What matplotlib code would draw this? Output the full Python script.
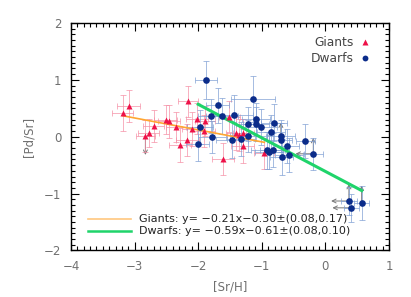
import numpy as np
import matplotlib
matplotlib.use("Agg")
import matplotlib.pyplot as plt
from matplotlib.ticker import MultipleLocator

# giants (red triangles)
giants_x = [-3.19, -3.09, -2.83, -2.78, -2.70, -2.51, -2.46, -2.35, -2.29, -2.16,
            -2.17, -2.09, -2.02, -1.91, -1.89, -1.51, -1.41, -1.36, -1.29, -1.30,
            -1.61, -0.97]
giants_y = [0.42, 0.54, 0.02, 0.07, 0.19, 0.30, 0.27, 0.17, -0.14, 0.62,
            -0.06, 0.13, 0.32, 0.10, 0.28, 0.35, 0.06, 0.03, 0.06, -0.17,
            -0.39, -0.29]
giants_xerr = [0.16, 0.18, 0.15, 0.16, 0.17, 0.18, 0.17, 0.16, 0.17, 0.16,
               0.18, 0.16, 0.17, 0.18, 0.16, 0.17, 0.16, 0.18, 0.17, 0.18,
               0.17, 0.16]
giants_yerr = [0.32, 0.28, 0.28, 0.25, 0.28, 0.26, 0.29, 0.27, 0.30, 0.27,
               0.28, 0.30, 0.27, 0.28, 0.26, 0.27, 0.30, 0.28, 0.26, 0.30,
               0.28, 0.27]

# dwarfs (blue circles)
dwarfs_x = [-1.88, -1.80, -1.69, -1.62, -1.44, -1.97, -1.79, -2.01, -1.47, -1.33,
            -1.22, -1.14, -1.21, -1.09, -1.09, -1.01, -0.85, -0.81, -0.70, -0.70,
            -0.61, -0.32, -0.92, -0.88, -0.83, -0.69, -0.58, -0.19, 0.37, 0.41,
            0.57]
dwarfs_y = [1.00, 0.37, 0.55, 0.36, 0.38, 0.17, -0.01, -0.13, -0.06, -0.04,
            0.01, 0.66, 0.23, 0.31, 0.22, 0.17, 0.08, 0.25, 0.01, -0.06,
            -0.16, -0.08, -0.24, -0.27, -0.23, -0.36, -0.32, -0.30, -1.13, -1.25,
            -1.16]
dwarfs_xerr = [0.17, 0.20, 0.18, 0.25, 0.30, 0.20, 0.22, 0.18, 0.25, 0.22,
               0.28, 0.34, 0.20, 0.22, 0.20, 0.25, 0.22, 0.20, 0.22, 0.18,
               0.20, 0.15, 0.25, 0.22, 0.20, 0.18, 0.22, 0.15, 0.12, 0.12,
               0.12]
dwarfs_yerr = [0.33, 0.30, 0.30, 0.32, 0.35, 0.30, 0.28, 0.30, 0.32, 0.30,
               0.28, 0.40, 0.30, 0.28, 0.30, 0.32, 0.30, 0.32, 0.28, 0.30,
               0.30, 0.30, 0.32, 0.30, 0.30, 0.32, 0.30, 0.28, 0.25, 0.25,
               0.30]

# limits: (x, y, dx, dy)
limit_arrows = [(-2.83, 0.02, 0.0, -0.34),
                (-0.70, 0.01, 0.0, 0.24),
                (-0.19, -0.30, 0.0, 0.28),
                (-0.19, -0.30, -0.28, 0.0),
                (0.37, -1.13, 0.0, 0.30),
                (0.37, -1.13, -0.28, 0.0),
                (0.41, -1.25, -0.30, 0.0),
                (0.57, -1.16, 0.0, 0.30)]

# fits: slope, intercept, x start, x end
giants_fit = (-0.21, -0.30, -3.18, -0.96)
dwarfs_fit = (-0.59, -0.61, -2.00, 0.57)

text_gray = "#707070"
fig = plt.figure(figsize=(4.11, 2.97), dpi=100)
ax = fig.add_axes([0.1727, 0.1566, 0.7738, 0.766])

for x, y, dx, dy in limit_arrows:
    ax.annotate("", xy=(x + dx, y + dy), xytext=(x, y),
                arrowprops=dict(arrowstyle="->", color="#777777", lw=0.7,
                                shrinkA=0, shrinkB=0, mutation_scale=7),
                zorder=2)

ax.errorbar(giants_x, giants_y, xerr=giants_xerr, yerr=giants_yerr, fmt="none",
            ecolor="#f58ea5", elinewidth=0.7, capsize=2, capthick=0.7, alpha=0.7, zorder=2)
ax.errorbar(dwarfs_x, dwarfs_y, xerr=dwarfs_xerr, yerr=dwarfs_yerr, fmt="none",
            ecolor="#7f9fd4", elinewidth=0.7, capsize=2, capthick=0.7, alpha=0.7, zorder=2)

gx = np.array([giants_fit[2], giants_fit[3]])
ax.plot(gx, giants_fit[0] * gx + giants_fit[1], color="#ffa632", lw=1.2, zorder=3)
dx_ = np.array([dwarfs_fit[2], dwarfs_fit[3]])
ax.plot(dx_, dwarfs_fit[0] * dx_ + dwarfs_fit[1], color="#1fd46a", lw=2.2, zorder=3)

ax.plot(giants_x, giants_y, "^", color="#ee1148", ms=4.5, mec="none", zorder=4)
ax.plot(dwarfs_x, dwarfs_y, "o", color="#0b2c8a", ms=4.8, mec="none", zorder=4)

ax.set_xlim(-4, 1)
ax.set_ylim(-2, 2)
ax.xaxis.set_minor_locator(MultipleLocator(0.1))
ax.yaxis.set_minor_locator(MultipleLocator(0.1))
ax.tick_params(which="both", direction="in", top=True, right=True,
               labelsize=8.5, labelcolor=text_gray, width=0.8)
ax.tick_params(which="major", length=6, pad=7)
ax.tick_params(which="minor", length=3)
ax.set_xticks([-4, -3, -2, -1, 0, 1])
ax.set_xticklabels(["\u22124", "\u22123", "\u22122", "\u22121", "0", "1"])
ax.set_yticks([-2, -1, 0, 1, 2])
ax.set_yticklabels(["\u22122", "\u22121", "0", "1", "2"])
for s in ax.spines.values():
    s.set_linewidth(1.0)

ax.set_xlabel("[Sr/H]", fontsize=8.5, color=text_gray, labelpad=5)
ax.set_ylabel("[Pd/Sr]", fontsize=8.5, color=text_gray, labelpad=6)

# top-right legend
ax.text(0.45, 1.66, "Giants", ha="right", va="center", fontsize=8.8, color="#444444")
ax.plot([0.62], [1.66], "^", color="#ee1148", ms=4.5, mec="none")
ax.text(0.45, 1.38, "Dwarfs", ha="right", va="center", fontsize=8.8, color="#444444")
ax.plot([0.62], [1.38], "o", color="#0b2c8a", ms=4.2, mec="none")

# bottom-left fit legend
ax.plot([-3.73, -3.05], [-1.44, -1.44], color="#ffc77f", lw=1.2)
ax.plot([-3.73, -3.05], [-1.665, -1.665], color="#1fd46a", lw=1.8)
ax.text(-2.93, -1.44, "Giants: y= \u22120.21x\u22120.30\u00b1(0.08,0.17)", ha="left", va="center",
        fontsize=8.0, color="#222222")
ax.text(-2.93, -1.665, "Dwarfs: y= \u22120.59x\u22120.61\u00b1(0.08,0.10)", ha="left", va="center",
        fontsize=8.0, color="#222222")

fig.savefig("out.png", dpi=100, facecolor="white")
